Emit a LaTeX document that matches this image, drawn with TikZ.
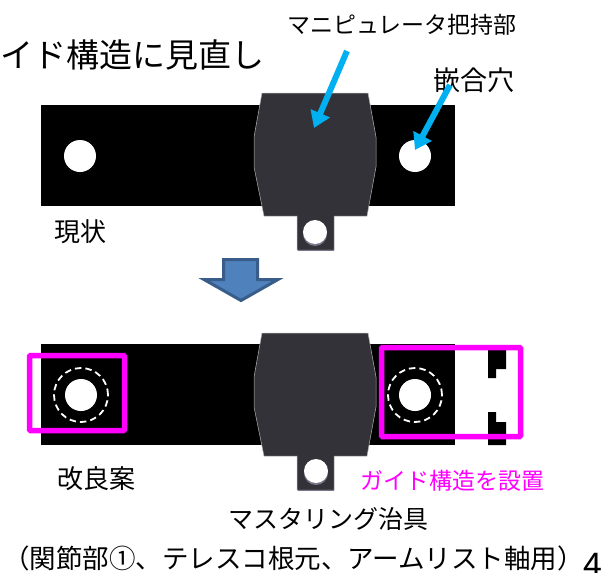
\documentclass[tikz,border=0pt]{standalone}
\usepackage{fontspec}
\setmainfont{Noto Sans CJK JP}
\usetikzlibrary{arrows.meta,positioning}

\definecolor{bodygray}{HTML}{333238}
\definecolor{guidepink}{HTML}{FF00FF}
\definecolor{pointblue}{HTML}{00B0F0}
\definecolor{arrowfill}{HTML}{4F81BD}
\definecolor{arrowline}{HTML}{385D8A}
\definecolor{shadegray}{HTML}{77768A}

\begin{document}
\begin{tikzpicture}[x=1pt,y=-1pt,>={Triangle[length=16pt,width=20pt]},
    bar/.style={fill=black},
    grip/.style={fill=bodygray,draw=gray!60,line width=0.5pt},
    hole/.style={circle,fill=white,inner sep=0pt,minimum size=32pt},
    smallhole/.style={circle,fill=white,inner sep=0pt,minimum size=24pt},
    smallshade/.style={circle,fill=shadegray,inner sep=0pt,minimum size=24pt},
    ring/.style={circle,draw=white,dash pattern=on 6.5pt off 4pt,line width=1.8pt,inner sep=0pt,minimum size=54pt},
    guide/.style={draw=guidepink,line width=5.5pt,rounded corners=1pt},
    pointer/.style={->,draw=pointblue,line width=6pt},
    label/.style={inner sep=0pt,font=\fontsize{#1}{#1}\selectfont}]
    \useasboundingbox (0,0) rectangle (606,573);

    % current jig
    \fill[bar] (41,105) rectangle (455,206);
    \draw[grip] (262,93) -- (368,93) -- (376,137) -- (376,167) -- (367,216) -- (334,216) -- (334,250)
        -- (297,250) -- (297,216) -- (264,216) -- (254,167) -- (254,137) -- cycle;
    \draw[shadegray,line width=1pt] (297.5,250) -- (333.5,250);
    \node[hole] (holeLa) at (80,156) {};
    \node[hole] (holeRa) at (415,156) {};
    \node[smallshade] (shadeTa) at (315,234) {};
    \node[smallhole] (holeTa) at (315,232) {};

    % improved jig
    \fill[bar] (41,344) rectangle (455,445);
    \fill[bar] (488,345) -- (506,345) -- (506,369) -- (496,369) -- (496,378) -- (488,378) -- cycle;
    \fill[bar] (488,412) -- (496,412) -- (496,422) -- (506,422) -- (506,445) -- (488,445) -- cycle;
    \draw[grip] (262,333) -- (368,333) -- (376,377) -- (376,407) -- (367,456) -- (334,456) -- (334,490)
        -- (297,490) -- (297,456) -- (264,456) -- (254,407) -- (254,377) -- cycle;
    \draw[shadegray,line width=1pt] (297.5,490) -- (333.5,490);
    \node[hole] (holeLb) at (81,395) {};
    \node[hole] (holeRb) at (415,395) {};
    \node[smallshade] (shadeTb) at (316,473) {};
    \node[smallhole] (holeTb) at (316,471) {};
    \node[ring] (ringL) at (holeLb) {};
    \node[ring] (ringR) at (holeRb) {};
    \draw[guide] (29.5,355.5) rectangle (124.5,430.5);
    \draw[guide] (381.5,347.5) rectangle (520.5,436.5);

    % down arrow
    \draw[fill=arrowfill,draw=arrowline,line width=3pt,line join=miter]
        (223.5,259.5) -- (257.5,259.5) -- (257.5,279.5) -- (278,279.5) -- (241,300.5) -- (204,279.5) -- (223.5,279.5) -- cycle;

    % labels
    \node[label=33,anchor=west] (title) at (0,55) {イド構造に見直し};
    \node[label=23,anchor=west] (gripname) at (287,25) {マニピュレータ把持部};
    \node[label=27,anchor=west] (fitname) at (433,80) {嵌合穴};
    \node[label=26,anchor=west] (nowname) at (54,232) {現状};
    \node[label=26,anchor=west] (newname) at (57,479) {改良案};
    \node[label=23,anchor=west,text=guidepink] (guidename) at (360,481) {ガイド構造を設置};
    \node[label=25,anchor=center] (jigname) at (328,519) {マスタリング治具};
    \node[label=26.5,anchor=west] (usename) at (3,558) {（関節部①、テレスコ根元、アームリスト軸用）};
    \node[label=34,anchor=base west] (pageno) at (583,577) {4};

    % pointers
    \coordinate (gripfoot) at (347,51);
    \coordinate (gripspot) at (314,128);
    \coordinate (fitfoot) at (450,85);
    \coordinate (fitspot) at (415,150);
    \draw[pointer] (gripfoot) -- (gripspot);
    \draw[pointer] (fitfoot) -- (fitspot);
\end{tikzpicture}
\end{document}
